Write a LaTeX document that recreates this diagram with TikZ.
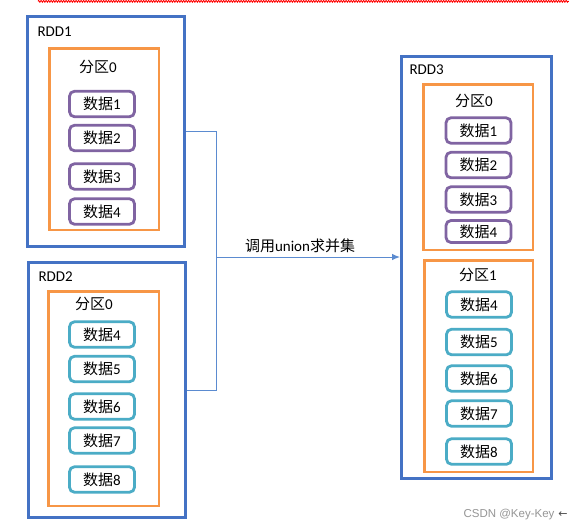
\documentclass[tikz,border=0pt]{standalone}
\usepackage{fontspec}
\setmainfont{Carlito}
\newfontfamily\cjk{Noto Sans CJK SC}
\newfontfamily\markfont{Liberation Sans}
\newfontfamily\symfont{DejaVu Sans}
\usetikzlibrary{arrows.meta, positioning, decorations.pathmorphing}
\definecolor{rddblue}{RGB}{68, 114, 196}
\definecolor{partorange}{RGB}{247, 150, 70}
\definecolor{datapurple}{RGB}{128, 100, 162}
\definecolor{datacyan}{RGB}{75, 172, 198}
\definecolor{linkblue}{RGB}{91, 139, 208}
\definecolor{markgray}{RGB}{150, 150, 150}

\begin{document}
\begin{tikzpicture}[x=1pt, y=-1pt, font=\fontsize{15}{18}\selectfont,
  rddbox/.style={draw=rddblue, line width=3pt, inner sep=0pt},
  partbox/.style={draw=partorange, line width=2.5pt, inner sep=0pt},
  databox/.style={rounded corners=5pt, line width=2.8pt, minimum width=65pt, minimum height=25.5pt, inner sep=0pt},
  oldrow/.style={databox, draw=datapurple},
  newrow/.style={databox, draw=datacyan},
  link/.style={draw=linkblue, line width=1pt}]
  \useasboundingbox (0,0) rectangle (569,531);
  \fill[white] (0,0) rectangle (569,531);
  \draw[red, line width=0.9pt, decorate, decoration={zigzag, segment length=2.5pt, amplitude=0.9pt}] (38,1.3) -- (569,1.3);

  % RDD1
  \node[rddbox, minimum width=157pt, minimum height=230pt] (rdd1) at (106,131.5) {};
  \node[anchor=west] (rdd1name) at (34,32) {RDD1};
  \node[partbox, minimum width=109.5pt, minimum height=181.5pt] (rdd1p0) at (104,139) {};
  \node (rdd1p0name) at (98,67) {{\cjk 分区}0};
  \node[oldrow] (a1) at (102,104) {{\cjk 数据}1};
  \node[oldrow] (a2) at (102,138) {{\cjk 数据}2};
  \node[oldrow] (a3) at (102,176.5) {{\cjk 数据}3};
  \node[oldrow] (a4) at (102,211.5) {{\cjk 数据}4};

  % RDD2
  \node[rddbox, minimum width=157pt, minimum height=255pt] (rdd2) at (106.5,390) {};
  \node[anchor=west] (rdd2name) at (35,277) {RDD2};
  \node[partbox, minimum width=110.5pt, minimum height=214.5pt] (rdd2p0) at (103.5,398.5) {};
  \node (rdd2p0name) at (94,304) {{\cjk 分区}0};
  \node[newrow] (b4) at (102,334.5) {{\cjk 数据}4};
  \node[newrow] (b5) at (102,369) {{\cjk 数据}5};
  \node[newrow] (b6) at (102,406.5) {{\cjk 数据}6};
  \node[newrow] (b7) at (102,440.5) {{\cjk 数据}7};
  \node[newrow] (b8) at (102,479.5) {{\cjk 数据}8};

  % RDD3
  \node[rddbox, minimum width=150pt, minimum height=422pt] (rdd3) at (476.5,267.5) {};
  \node[anchor=west] (rdd3name) at (406,70) {RDD3};
  \node[partbox, minimum width=109.5pt, minimum height=165.5pt] (rdd3p0) at (478,167) {};
  \node (rdd3p0name) at (474,101) {{\cjk 分区}0};
  \node[oldrow] (c1) at (478.5,130.5) {{\cjk 数据}1};
  \node[oldrow] (c2) at (478.5,165) {{\cjk 数据}2};
  \node[oldrow] (c3) at (478.5,199.5) {{\cjk 数据}3};
  \node[oldrow, minimum height=22pt] (c4) at (478.5,231.5) {{\cjk 数据}4};
  \node[partbox, minimum width=108.5pt, minimum height=211.5pt] (rdd3p1) at (478.5,366) {};
  \node (rdd3p1name) at (478,275) {{\cjk 分区}1};
  \node[newrow] (d4) at (479,304.5) {{\cjk 数据}4};
  \node[newrow] (d5) at (479,342) {{\cjk 数据}5};
  \node[newrow] (d6) at (479,378.5) {{\cjk 数据}6};
  \node[newrow] (d7) at (479,413.5) {{\cjk 数据}7};
  \node[newrow] (d8) at (479,451.5) {{\cjk 数据}8};

  % union
  \coordinate (join) at (216,257);
  \draw[link] (rdd1.east) -| (join);
  \draw[link] (rdd2.east) -| (join);
  \draw[link, -{Latex[length=8pt, width=6.5pt]}] (join) -- (join -| rdd3.west);
  \node (unionlabel) at (300,246) {{\cjk 调用}union{\cjk 求并集}};

  \node[anchor=west, font=\markfont\fontsize{11.5}{13}\selectfont, text=markgray] (mark) at (460,515) {CSDN @Key-Key};
  \node[font=\symfont\fontsize{11}{13}\selectfont, text=black!70] (markarrow) at (563,515) {←};
\end{tikzpicture}
\end{document}
